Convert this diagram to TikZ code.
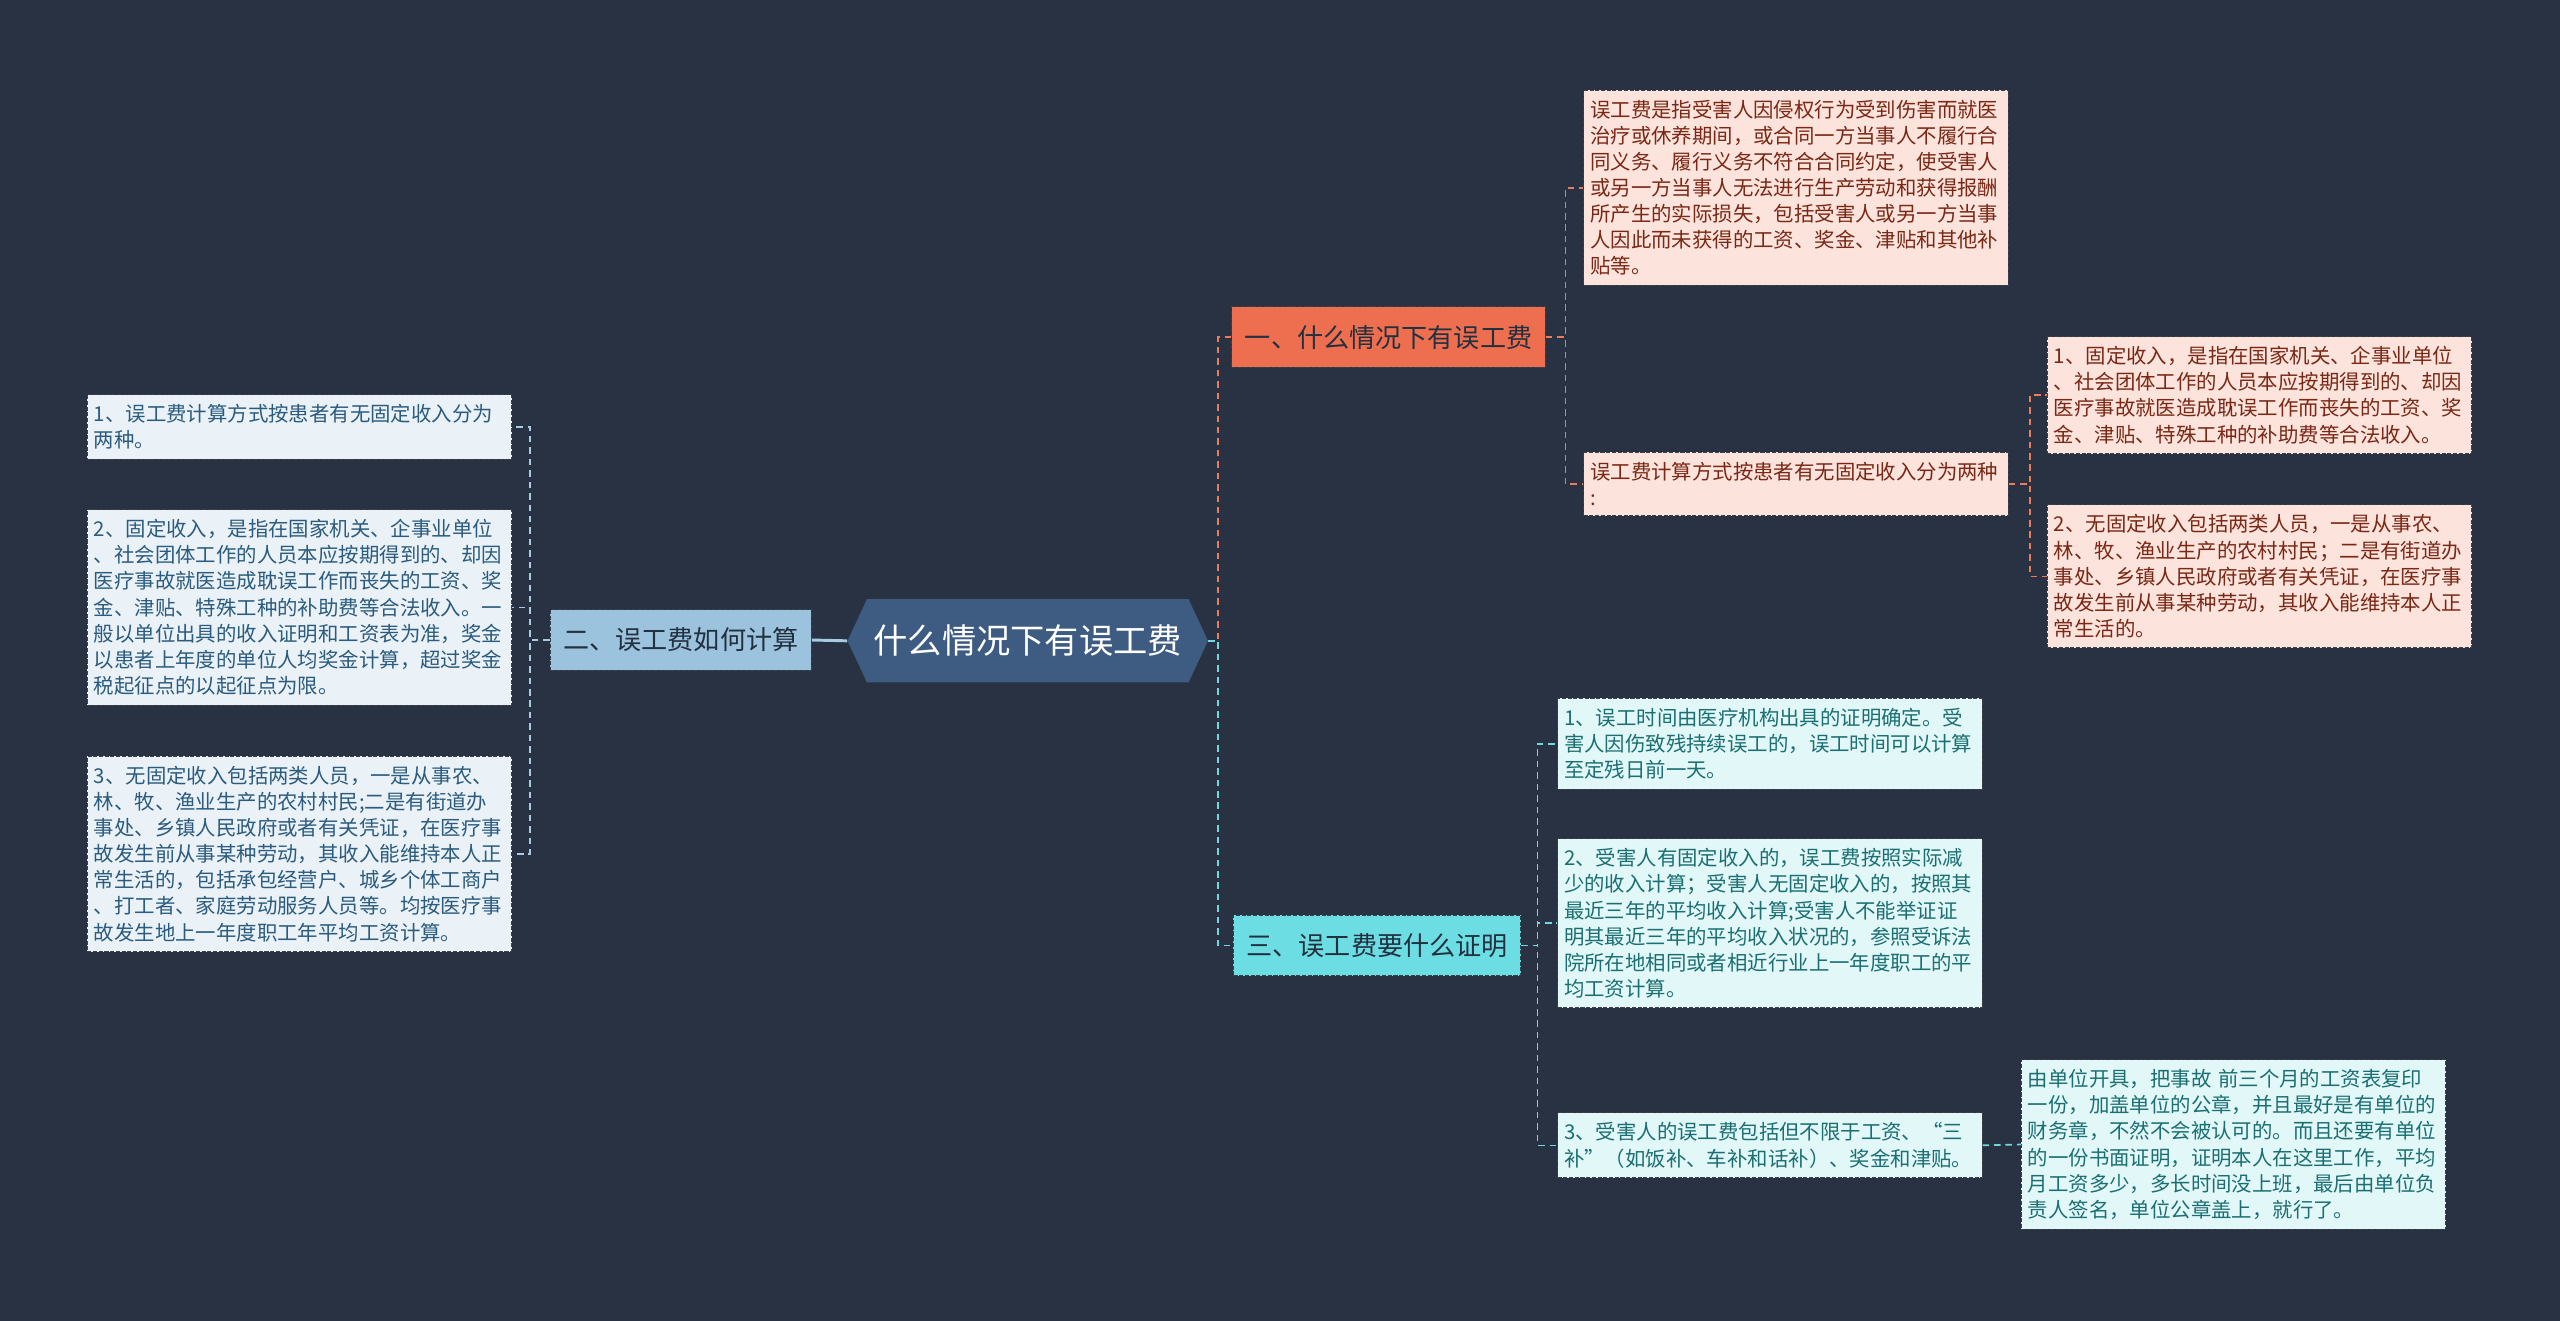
\documentclass[tikz,border=0pt]{standalone}
\usepackage{fontspec}
\setmainfont{Noto Sans CJK SC}
\usepackage{xcolor}
\usepackage{tikz}
\usetikzlibrary{shapes.symbols}

\definecolor{bgnavy}{HTML}{283243}
\definecolor{rootblue}{HTML}{3E5C82}
\definecolor{edgegray}{HTML}{3A3F4A}
\definecolor{lbranch}{HTML}{9CC3DD}
\definecolor{lleaf}{HTML}{EAF2F8}
\definecolor{ltext}{HTML}{2B5B7E}
\definecolor{lline}{HTML}{A6CBE3}
\definecolor{obranch}{HTML}{EE6E50}
\definecolor{oleaf}{HTML}{FCE3DC}
\definecolor{otext}{HTML}{7A2815}
\definecolor{oline}{HTML}{EE7A5A}
\definecolor{cbranch}{HTML}{6CDDE3}
\definecolor{cleaf}{HTML}{E1F7F8}
\definecolor{ctext}{HTML}{1B6F72}
\definecolor{cline}{HTML}{6FD9E0}
\definecolor{darktxt}{HTML}{22303F}

\begin{document}
\begin{tikzpicture}[x=1pt, y=-1pt,
    root/.style={shape=signal, signal to=east and west, signal pointer angle=130,
                 fill=rootblue, text=white, minimum height=51pt, inner xsep=4pt,
                 font=\fontsize{21}{25}\selectfont},
    branch/.style={draw=edgegray, dash pattern=on 2.5pt off 1pt, line width=0.6pt,
                   minimum height=37pt, inner xsep=8pt, text=darktxt,
                   font=\fontsize{16}{20}\selectfont},
    leaf/.style={draw=edgegray, dash pattern=on 2.5pt off 1pt, line width=0.6pt,
                 align=left, text width=252pt, inner xsep=4pt, inner ysep=6pt,
                 font=\fontsize{12.5}{16}\selectfont},
    conn/.style={dash pattern=on 4pt off 3pt, line width=1pt},
]
% background and page size
\fill[bgnavy] (0,0) rectangle (1568,809);
\useasboundingbox (0,0) rectangle (1568,809);

% centre and the three branches
\node[root] (root) at (629.5,392.5) {什么情况下有误工费};
\node[branch, fill=obranch] (b1) at (850.5,206.5) {一、什么情况下有误工费};
\node[branch, fill=lbranch] (b2) at (417,392) {二、误工费如何计算};
\node[branch, fill=cbranch] (b3) at (843.5,579) {三、误工费要什么证明};

% branch one
\node[leaf, fill=oleaf, text=otext] (r1a) at (1100,115) {误工费是指受害人因侵权行为受到伤害而就医\\治疗或休养期间，或合同一方当事人不履行合\\同义务、履行义务不符合合同约定，使受害人\\或另一方当事人无法进行生产劳动和获得报酬\\所产生的实际损失，包括受害人或另一方当事\\人因此而未获得的工资、奖金、津贴和其他补\\贴等。};
\node[leaf, fill=oleaf, text=otext] (r1b) at (1100,296.5) {误工费计算方式按患者有无固定收入分为两种\\:};
\node[leaf, fill=oleaf, text=otext] (r1b1) at (1384,242) {1、固定收入，是指在国家机关、企事业单位\\、社会团体工作的人员本应按期得到的、却因\\医疗事故就医造成耽误工作而丧失的工资、奖\\金、津贴、特殊工种的补助费等合法收入。};
\node[leaf, fill=oleaf, text=otext] (r1b2) at (1384,353) {2、无固定收入包括两类人员，一是从事农、\\林、牧、渔业生产的农村村民；二是有街道办\\事处、乡镇人民政府或者有关凭证，在医疗事\\故发生前从事某种劳动，其收入能维持本人正\\常生活的。};

% branch two
\node[leaf, fill=lleaf, text=ltext] (l1) at (183.5,261.5) {1、误工费计算方式按患者有无固定收入分为\\两种。};
\node[leaf, fill=lleaf, text=ltext] (l2) at (183.5,372) {2、固定收入，是指在国家机关、企事业单位\\、社会团体工作的人员本应按期得到的、却因\\医疗事故就医造成耽误工作而丧失的工资、奖\\金、津贴、特殊工种的补助费等合法收入。一\\般以单位出具的收入证明和工资表为准，奖金\\以患者上年度的单位人均奖金计算，超过奖金\\税起征点的以起征点为限。};
\node[leaf, fill=lleaf, text=ltext] (l3) at (183.5,523) {3、无固定收入包括两类人员，一是从事农、\\林、牧、渔业生产的农村村民;二是有街道办\\事处、乡镇人民政府或者有关凭证，在医疗事\\故发生前从事某种劳动，其收入能维持本人正\\常生活的，包括承包经营户、城乡个体工商户\\、打工者、家庭劳动服务人员等。均按医疗事\\故发生地上一年度职工年平均工资计算。};

% branch three
\node[leaf, fill=cleaf, text=ctext] (r3a) at (1084,455.5) {1、误工时间由医疗机构出具的证明确定。受\\害人因伤致残持续误工的，误工时间可以计算\\至定残日前一天。};
\node[leaf, fill=cleaf, text=ctext] (r3b) at (1084,565.5) {2、受害人有固定收入的，误工费按照实际减\\少的收入计算；受害人无固定收入的，按照其\\最近三年的平均收入计算;受害人不能举证证\\明其最近三年的平均收入状况的，参照受诉法\\院所在地相同或者相近行业上一年度职工的平\\均工资计算。};
\node[leaf, fill=cleaf, text=ctext] (r3c) at (1084,701.5) {3、受害人的误工费包括但不限于工资、“三\\补”（如饭补、车补和话补）、奖金和津贴。};
\node[leaf, fill=cleaf, text=ctext] (r3d) at (1368,701) {由单位开具，把事故 前三个月的工资表复印\\一份，加盖单位的公章，并且最好是有单位的\\财务章，不然不会被认可的。而且还要有单位\\的一份书面证明，证明本人在这里工作，平均\\月工资多少，多长时间没上班，最后由单位负\\责人签名，单位公章盖上，就行了。};

% connectors
\draw[lline, line width=1.8pt] (root.west) -- (b2.east);
\draw[conn, oline] (root.east) -- ++(6,0) |- (b1.west);
\draw[conn, cline] (root.east) -- ++(6,0) |- (b3.west);
\foreach \b in {l1, l2, l3}
    \draw[conn, lline] (b2.west) -- ++(-12,0) |- (\b.east);
\foreach \b in {r1a, r1b}
    \draw[conn, oline] (b1.east) -- ++(12,0) |- (\b.west);
\foreach \b in {r1b1, r1b2}
    \draw[conn, oline] (r1b.east) -- ++(13,0) |- (\b.west);
\foreach \b in {r3a, r3b, r3c}
    \draw[conn, cline] (b3.east) -- ++(10,0) |- (\b.west);
\draw[conn, cline] (r3c.east) -- (r3d.west);
\end{tikzpicture}
\end{document}
